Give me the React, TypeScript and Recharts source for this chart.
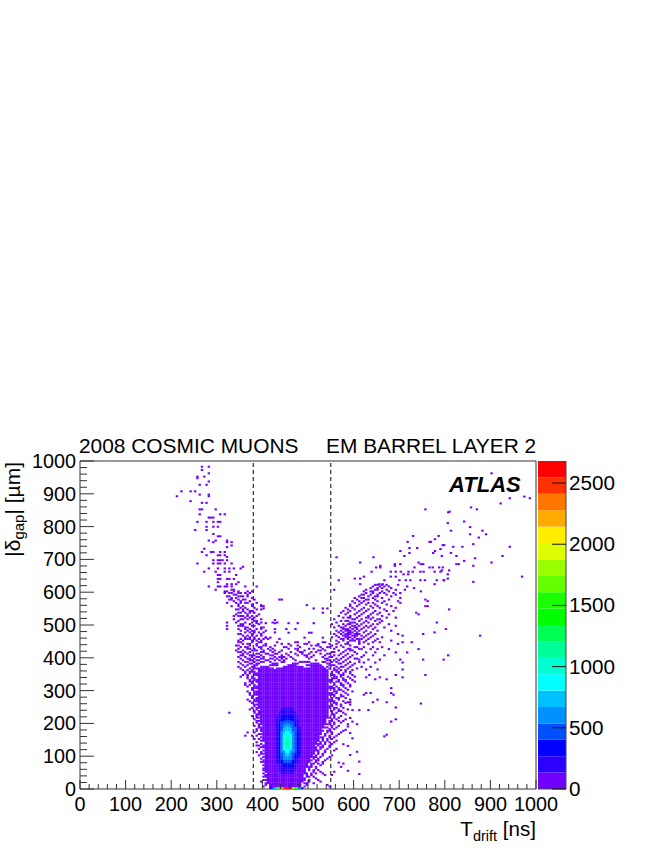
import React from 'react'
import { ScatterChart, Scatter, BarChart, Bar, XAxis, YAxis, ReferenceLine } from 'recharts'

const FONT = '"Liberation Sans", Arial, sans-serif'

// ROOT rainbow palette, one colour per z contour
const bandColors = [
  '#7000ff', '#3000ff', '#0000ff', '#0050ff', '#0090ff', '#00c0ff', '#00ffff', '#00ffd0', '#00ff99', '#00ff55',
  '#00ff00', '#1aff00', '#66ff00', '#99ff00', '#ddff00', '#ffee00', '#ffaa00', '#ff7700', '#ff3000', '#ff0000',
]
const BAND_STEP = 134
const zTicks = [0, 500, 1000, 1500, 2000, 2500]
const axisTicks = Array.from({ length: 51 }, (_, i) => i * 20)

// solid part of the histogram: [yLow, yHigh, xLow, xHigh] per contour
const level0Rows = [
  [385, 390, 490, 505], [380, 385, 470, 480], [380, 385, 510, 525], [375, 380, 420, 435], [375, 380, 455, 475],
  [375, 380, 495, 530], [370, 375, 395, 415], [370, 375, 445, 490], [370, 375, 505, 535], [365, 370, 385, 425],
  [365, 370, 430, 540], [355, 365, 390, 545], [345, 355, 385, 545], [335, 345, 390, 545], [325, 335, 385, 550],
  [315, 325, 390, 545], [305, 315, 385, 550], [295, 305, 390, 545], [285, 295, 385, 550], [275, 285, 390, 545],
  [265, 275, 385, 550], [255, 265, 390, 545], [245, 255, 390, 550], [235, 245, 395, 545], [225, 235, 390, 545],
  [215, 225, 395, 545], [205, 215, 395, 540], [195, 205, 395, 540], [185, 195, 400, 535], [175, 185, 395, 530],
  [165, 175, 400, 530], [155, 165, 400, 525], [145, 155, 400, 525], [135, 145, 405, 520], [125, 135, 400, 515],
  [115, 125, 405, 515], [105, 115, 405, 510], [95, 105, 405, 510], [85, 95, 405, 505], [75, 85, 405, 500],
  [65, 75, 405, 500], [55, 65, 405, 495], [45, 55, 410, 495], [35, 45, 405, 490], [25, 35, 410, 490],
  [15, 25, 410, 485], [5, 15, 415, 485], [0, 5, 420, 480],
]
const level1Rows = [
  [245, 250, 445, 465], [235, 245, 440, 470], [220, 235, 435, 475], [190, 220, 430, 480], [100, 190, 430, 485],
  [75, 100, 430, 480], [55, 75, 435, 475], [45, 55, 440, 470],
]
const level2Rows = [
  [220, 225, 445, 465], [205, 220, 440, 470], [180, 205, 435, 475], [100, 180, 435, 480], [80, 100, 435, 475], [65, 80, 445, 470],
]
const level3Rows = [[205, 210, 445, 465], [190, 205, 440, 470], [110, 190, 440, 475], [90, 110, 440, 470], [80, 90, 445, 465]]
const level4Rows = [[195, 200, 450, 460], [175, 195, 445, 465], [110, 175, 440, 470], [90, 110, 445, 465]]
const level5Rows = [[185, 190, 450, 460], [165, 185, 445, 465], [115, 165, 445, 465], [100, 115, 450, 460]]
const level6Rows = [[170, 175, 450, 460], [150, 170, 445, 465], [120, 150, 445, 465], [110, 120, 450, 460]]
const level7Rows = [[160, 165, 450, 460], [135, 160, 450, 460], [120, 135, 450, 460]]
const level8Rows = [[150, 155, 450, 455], [130, 150, 450, 460]]
const coreLevels = [level0Rows, level1Rows, level2Rows, level3Rows, level4Rows, level5Rows, level6Rows, level7Rows, level8Rows]

// the y = 0 row, where the counts pile up
const bottomBins = [415, 420, 425, 430, 435, 440, 445, 450, 455, 460, 465, 470, 475, 480, 485]
const bottomCounts = [300, 500, 800, 1100, 1500, 2200, 2500, 2650, 2650, 2600, 1800, 1400, 1200, 600, 200]

// sparse hits: [y, [x, x, ...]]
const leftArmRows: [number, number[]][] = [
  [980, [265, 280]], [970, [265]], [960, [280]], [950, [270, 255]], [945, [255]], [935, [280]], [925, [260, 275]],
  [905, [220, 240, 250]], [895, [260, 280]], [890, [210, 280]], [875, [240]], [870, [265, 275]], [850, [260, 265, 295]],
  [835, [260, 305, 315]], [825, [280, 285, 290]], [812, [255, 275, 290, 300, 305]], [797, [275, 290, 300]], [787, [250, 275]],
  [775, [290]], [768, [300, 305]], [755, [280, 295, 320]], [750, [290, 320, 330]], [740, [330]], [735, [320]], [730, [270]],
  [720, [265, 285, 290, 305, 315]], [710, [275, 300, 305, 315]], [705, [320]], [695, [290, 300, 305, 310, 320]],
  [685, [255, 290, 300, 305, 315, 330]], [675, [355]], [670, [280, 300, 315, 325, 335, 350]], [660, [270, 295, 315, 325]],
  [650, [300, 305, 340]], [638, [300, 305, 320, 325, 335]], [628, [300, 345]], [622, [320, 330, 340]],
  [615, [280, 300, 305, 315, 320, 330, 360, 385]], [605, [295, 330, 335]], [600, [315, 320, 335, 345, 365, 375]],
  [595, [315, 325, 330, 345, 350, 360, 370]], [590, [335, 340, 365]], [585, [320, 325, 345, 350, 355, 365]],
  [580, [330, 340, 375]], [575, [325, 330, 345, 355, 360, 380, 440]], [570, [335, 350, 370]],
  [565, [320, 340, 350, 360, 365, 385]], [560, [345, 375]], [555, [330, 345, 355, 375, 395, 400]], [550, [350, 360, 380]],
  [545, [340, 345, 355, 365, 385, 395]], [540, [355, 370, 375]], [535, [345, 350, 360, 370, 380]], [530, [340, 365, 390]],
  [525, [335, 345, 350, 355, 365, 375, 385]], [520, [360, 370, 380]], [515, [335, 350, 355, 365, 375, 395]], [510, [345, 380, 385]],
  [505, [320, 340, 360, 375, 385, 395, 420, 430]], [500, [350, 355, 370, 390]], [495, [320, 345, 350, 355, 375, 380]], [490, [360, 365, 395, 400]],
  [485, [320, 345, 360, 370, 385, 395, 425, 450]], [480, [350, 365, 375, 380, 405]], [475, [360, 370, 380, 390, 400, 425]], [470, [345, 350, 375, 395]],
  [465, [355, 365, 375, 385, 395]], [460, [360, 370, 380, 405]], [455, [350, 360, 365, 370, 380, 390, 400, 410, 435]], [450, [345, 355, 375, 385, 395]],
]

const haloRows: [number, number[]][] = [
  [575, [435]], [558, [395, 495]], [548, [400, 510, 530, 540]], [535, [530]], [513, [425]],
  [503, [385, 405, 425, 455, 475, 510]], [485, [470]], [474, [455, 500, 505]], [459, [405, 415, 490, 530]],
  [445, [345, 350, 375, 390, 395, 430, 470, 475, 500, 530, 535, 565, 585]],
  [440, [355, 365, 370, 385, 405, 440, 455, 490, 495, 520, 545, 560, 580, 585]],
  [435, [340, 345, 370, 385, 400, 405, 425, 460, 475, 505, 515, 520, 550, 570, 590]],
  [430, [350, 360, 365, 390, 395, 415, 445, 450, 480, 525, 540, 545, 560, 575, 600, 605]],
  [425, [345, 365, 370, 380, 395, 410, 420, 455, 470, 475, 500, 510, 530, 555, 585, 590, 610]],
  [420, [340, 355, 375, 380, 385, 400, 415, 425, 440, 475, 490, 520, 525, 535, 565, 580, 590, 595]],
  [415, [345, 350, 360, 370, 395, 400, 420, 435, 460, 480, 485, 505, 515, 550, 555, 575, 600]],
  [410, [355, 365, 385, 390, 405, 410, 425, 430, 450, 470, 485, 500, 525, 540, 545, 570, 585, 605]],
  [405, [350, 355, 370, 375, 380, 395, 415, 420, 440, 455, 475, 490, 495, 510, 535, 555, 565, 580, 595]],
  [400, [345, 360, 375, 385, 390, 400, 425, 435, 440, 445, 460, 495, 505, 530, 545, 550, 575, 590, 615]],
  [395, [350, 365, 370, 380, 395, 400, 415, 420, 430, 440, 450, 465, 500, 535, 540, 560, 570, 585, 600, 605]],
  [390, [355, 370, 375, 385, 390, 405, 410, 425, 435, 445, 470, 515, 540, 545, 555, 565, 580]],
  [385, [345, 360, 365, 380, 395, 400, 415, 440, 445, 480, 485, 530, 535, 550, 560, 575, 590, 610]],
  [380, [350, 370, 375, 385, 390, 420, 425, 430, 465, 505, 540, 545, 565, 570, 585, 600]],
  [375, [355, 365, 380, 385, 415, 545, 550, 555, 580, 595]],
  [370, [345, 360, 375, 380, 540, 560, 570, 575, 590]],
  [365, [350, 370, 380, 545, 555, 565, 585, 605]],
]

const sideRows: [number, number[]][] = [
  [360, [355, 365, 375, 555, 560, 570, 580, 595]], [355, [360, 370, 375, 380, 550, 560, 565, 580, 590]],
  [350, [360, 370, 380, 550, 565, 575, 590]], [345, [355, 365, 380, 385, 550, 555, 570, 575, 595]],
  [340, [350, 365, 375, 555, 560, 570, 585, 600]], [335, [365, 375, 380, 550, 555, 560, 575, 590]],
  [330, [370, 380, 550, 565, 575, 580, 595]], [325, [370, 375, 385, 550, 560, 565, 580, 600]], [320, [360, 375, 555, 570, 585]],
  [315, [360, 370, 380, 555, 570, 575, 590]], [310, [365, 380, 550, 560, 575, 590]], [305, [375, 380, 550, 555, 565, 580]],
  [300, [375, 555, 565, 570, 585]], [295, [365, 380, 385, 555, 560, 575, 595]], [290, [370, 380, 550, 560, 580]],
  [285, [370, 380, 550, 555, 570, 585]], [280, [375, 555, 570, 575]], [275, [375, 385, 550, 560, 565, 580]],
  [270, [365, 380, 550, 565, 590]], [265, [370, 380, 385, 550, 555, 575]], [260, [375, 555, 560, 580]],
  [255, [380, 385, 550, 560, 570, 590]], [250, [380, 550, 570]], [245, [375, 385, 555, 560, 575]], [240, [370, 385, 555, 565, 585]],
  [235, [380, 390, 550, 565, 570]], [230, [325, 380, 550, 560, 575]], [225, [385, 390, 550, 555, 580]], [220, [375, 385, 555, 570]],
  [215, [385, 390, 545, 555, 565]], [210, [380, 550, 560, 580]], [205, [385, 390, 545, 550, 565, 575]], [200, [385, 545, 555, 570]],
  [195, [390, 540, 545, 555, 585]], [190, [380, 390, 550, 565]], [185, [390, 395, 535, 540, 550, 560]], [180, [385, 545, 555]],
  [175, [385, 395, 530, 540, 545, 575]], [170, [365, 380, 540, 550, 570]], [165, [390, 395, 525, 535, 550, 565]], [160, [360, 375, 385, 535, 545, 560]],
  [155, [395, 525, 530, 545, 555]], [150, [380, 390, 530, 540, 550]], [145, [395, 400, 520, 530, 540, 560]], [140, [385, 525, 535, 555, 545]],
  [135, [395, 520, 525, 535, 550]], [130, [385, 390, 520, 530, 545]], [125, [395, 400, 515, 525, 530, 545]], [120, [390, 525, 515, 540, 560]],
  [115, [400, 515, 520, 535, 555]], [110, [385, 395, 520, 510, 535]], [105, [395, 400, 510, 520, 530]], [100, [390, 515, 505, 530, 550]],
  [95, [400, 510, 515, 525, 545]], [90, [395, 510, 520, 540]], [85, [400, 505, 515, 520, 535]], [80, [395, 400, 500, 515, 530]],
  [75, [405, 505, 510, 520, 530]], [70, [400, 505, 495, 525]], [65, [405, 500, 505, 515]], [60, [400, 405, 500, 515]],
  [55, [400, 500, 510, 520]], [50, [405, 510, 490, 525]], [45, [400, 495, 505, 515, 530]], [40, [405, 410, 495, 505, 535]],
  [35, [400, 495, 500, 510]], [30, [410, 490, 515]], [25, [400, 405, 490, 500, 520]], [20, [395, 410, 485, 500, 525]],
  [15, [405, 490, 495, 510]], [10, [405, 480, 495, 540]], [5, [400, 415, 490, 545]],
]

const rightArmRows: [number, number[]][] = [
  [960, [900]], [889, [972]], [884, [940, 984]], [868, [920]], [856, [855]], [850, [755, 868]], [843, [808]], [841, [805]],
  [813, [840]], [808, [804]], [796, [853]], [785, [811, 880]], [774, [853, 888]], [769, [728, 784]], [764, [872]], [759, [776]],
  [751, [716, 764, 767]], [744, [860]], [741, [793, 796]], [736, [816, 836, 940]], [732, [720, 737]], [729, [788]], [723, [700, 776]],
  [717, [772, 811, 720]], [708, [709, 823, 924, 791]], [704, [560, 641]], [701, [864]], [693, [840]], [688, [612, 740, 900]],
  [683, [688, 700, 745, 750, 823, 828]], [678, [688, 656, 860]], [673, [647, 656, 764, 771, 785, 793, 731]], [664, [791, 807]],
  [660, [679, 690, 701, 718, 727, 637, 744, 751, 775, 788]], [652, [707, 717, 804]], [645, [690, 679, 620, 967]],
  [639, [612, 600, 804]], [634, [698, 712, 722, 744, 754, 780, 795, 665, 565, 796]], [629, [860]], [622, [775, 612, 654, 661]],
  [620, [645, 650, 660, 670, 695]], [615, [640, 655, 665, 675, 715]], [610, [635, 650, 660, 680, 730]],
  [605, [625, 645, 650, 670, 690, 710, 555]], [600, [620, 635, 640, 660, 675, 745]], [595, [625, 640, 655, 665, 685, 700]],
  [590, [615, 620, 635, 650, 670, 690]], [585, [610, 630, 645, 650, 680]], [580, [600, 615, 620, 640, 660, 700]],
  [575, [605, 625, 630, 645, 675, 755]], [570, [595, 610, 620, 650, 665, 695, 760]], [565, [600, 615, 630, 640, 660, 700]],
  [560, [590, 610, 625, 645, 670]], [555, [590, 605, 635, 650, 680, 755, 760]], [550, [580, 595, 620, 640, 655, 690]],
  [545, [585, 600, 615, 630, 665, 807]], [540, [575, 590, 610, 625, 645, 670, 685]], [535, [570, 585, 605, 620, 640, 655, 735]],
  [530, [580, 600, 615, 635, 650, 675, 740]], [525, [565, 590, 610, 630, 660]],
  [520, [575, 585, 590, 605, 625, 630, 640, 670, 690]], [515, [555, 595, 600, 615, 635, 650, 655]], [510, [570, 580, 585, 610, 625, 645, 660]],
  [505, [560, 590, 595, 600, 620, 630, 655, 780]], [500, [550, 575, 585, 590, 605, 615, 640, 650, 675]], [495, [565, 580, 595, 600, 610, 625, 635, 690]],
  [490, [555, 570, 575, 590, 600, 605, 620, 630, 645, 665]], [485, [575, 580, 585, 595, 605, 615, 640, 800]],
  [480, [560, 570, 580, 585, 590, 600, 610, 625, 650, 680]], [475, [565, 575, 585, 590, 595, 605, 620, 635, 775]],
  [470, [555, 570, 580, 585, 590, 600, 605, 610, 630, 645, 695, 750]], [465, [560, 575, 580, 585, 595, 600, 605, 615, 625, 640, 705, 875]],
  [460, [550, 565, 580, 585, 590, 600, 620, 635, 660]], [455, [570, 575, 585, 595, 605, 610, 615, 630, 650]],
  [450, [560, 575, 590, 595, 600, 610, 625, 645, 680]],
  [445, [610, 620, 640, 655, 705, 725]], [440, [610, 630, 695]], [430, [620, 640, 660]], [424, [615, 635, 650, 675, 740]],
  [414, [625, 645, 690, 715]], [405, [620, 640, 665, 805]], [392, [610, 630, 655, 700, 750, 795]], [383, [620, 645, 705]],
  [370, [615, 635]], [362, [625, 650, 705]], [345, [632, 690, 755]], [338, [625, 655, 705]], [332, [645, 670]],
  [305, [680]], [290, [625, 635, 680]], [285, [620, 685]], [270, [650]], [262, [585, 590, 640, 670]], [258, [745]],
  [246, [690]], [238, [595, 610, 630]], [214, [590]], [210, [690]], [203, [595, 680]], [195, [605]], [188, [585]],
  [178, [580]], [168, [590]], [163, [670]], [158, [665]], [152, [595]], [134, [575]], [129, [585]], [111, [605]],
  [101, [590]], [81, [610]], [78, [565]], [75, [575]], [65, [570]], [53, [585]], [50, [555]], [43, [610]], [40, [550]],
]

type Hit = { x: number; y: number; count: number }

const hitsFrom = (rows: [number, number[]][]): Hit[] =>
  rows.flatMap(([y, xs]) => xs.map((x) => ({ x: x + 2.5, y: y + 2.5, count: 50 })))

const buildCore = (): Hit[] => {
  const cells = new Map<string, Hit>()
  coreLevels.forEach((rows, level) => {
    rows.forEach(([yLow, yHigh, xLow, xHigh]) => {
      for (let y = yLow; y < yHigh; y += 5) {
        for (let x = xLow; x < xHigh; x += 5) {
          cells.set(`${x}:${y}`, { x: x + 2.5, y: y + 2.5, count: level * BAND_STEP + 60 })
        }
      }
    })
  })
  bottomBins.forEach((x, i) => {
    cells.set(`${x}:0`, { x: x + 2.5, y: 2.5, count: bottomCounts[i] })
  })
  return [...cells.values()]
}

const sparseHits = hitsFrom([...leftArmRows, ...haloRows, ...sideRows, ...rightArmRows])
const coreCells = buildCore()

const colorBarData = [Object.fromEntries([['name', 'z'], ...bandColors.map((_, i) => [`b${i}`, BAND_STEP])])]

const BinShape = (props: any) => {
  const level = Math.min(bandColors.length - 1, Math.floor(props.payload.count / BAND_STEP))
  return <rect x={props.cx - 1.2} y={props.cy - 1} width={2.4} height={2} fill={bandColors[level]} />
}

const tickLine = { stroke: '#333', strokeWidth: 1 }

const BottomTick = ({ x, y, payload }: any) => {
  const major = payload.value % 100 === 0
  return (
    <g>
      <line x1={x} x2={x} y1={y} y2={y - (major ? 9 : 5)} {...tickLine} />
      {major && (
        <text x={x} y={y + 22} textAnchor="middle" fontSize={19.8} fontFamily={FONT} fill="#000">
          {payload.value}
        </text>
      )}
    </g>
  )
}

const TopTick = ({ x, y, payload }: any) => (
  <line x1={x} x2={x} y1={y} y2={y + (payload.value % 100 === 0 ? 9 : 5)} {...tickLine} />
)

const LeftTick = ({ x, y, payload }: any) => {
  const major = payload.value % 100 === 0
  return (
    <g>
      <line x1={x} x2={x + (major ? 14 : 7)} y1={y} y2={y} {...tickLine} />
      {major && (
        <text x={x - 4} y={y + 7} textAnchor="end" fontSize={19.8} fontFamily={FONT} fill="#000">
          {payload.value}
        </text>
      )}
    </g>
  )
}

const RightTick = ({ x, y, payload }: any) => (
  <line x1={x} x2={x - (payload.value % 100 === 0 ? 14 : 7)} y1={y} y2={y} {...tickLine} />
)

const ZTick = ({ x, y, payload }: any) => (
  <g>
    <line x1={x - 14} x2={x} y1={y} y2={y} stroke="#111" strokeWidth={1} />
    <text x={x + 3} y={y + 7} fontSize={20.7} fontFamily={FONT} fill="#000">
      {payload.value}
    </text>
  </g>
)

export default function App() {
  return (
    <div style={{ position: 'absolute', left: 0, top: 0, width: 664, height: 860, background: '#fff' }}>
      <div style={{ position: 'absolute', left: 0, top: 0 }}>
        <ScatterChart width={664} height={860} margin={{ top: 460, right: 127, bottom: 0, left: 0 }}>
          <XAxis
            type="number"
            dataKey="x"
            domain={[0, 1000]}
            ticks={axisTicks}
            interval={0}
            height={71}
            stroke="#333"
            tickSize={0}
            tickMargin={0}
            tickLine={false}
            tick={<BottomTick />}
            allowDataOverflow
          />
          <XAxis
            xAxisId="top"
            orientation="top"
            type="number"
            domain={[0, 1000]}
            ticks={axisTicks}
            interval={0}
            height={1}
            stroke="#333"
            tickSize={0}
            tickMargin={0}
            tickLine={false}
            tick={<TopTick />}
          />
          <YAxis
            type="number"
            dataKey="y"
            domain={[0, 1000]}
            ticks={axisTicks}
            interval={0}
            width={80}
            stroke="#333"
            tickSize={0}
            tickMargin={0}
            tickLine={false}
            tick={<LeftTick />}
            allowDataOverflow
          />
          <YAxis
            yAxisId="right"
            orientation="right"
            type="number"
            domain={[0, 1000]}
            ticks={axisTicks}
            interval={0}
            width={1}
            stroke="#333"
            tickSize={0}
            tickMargin={0}
            tickLine={false}
            tick={<RightTick />}
          />
          <Scatter data={coreCells} shape={<BinShape />} isAnimationActive={false} />
          <Scatter data={sparseHits} shape={<BinShape />} isAnimationActive={false} />
          <ReferenceLine x={380} stroke="#000" strokeDasharray="4 3" />
          <ReferenceLine x={550} stroke="#000" strokeDasharray="4 3" />
          <text x={79} y={453} fontSize={20.9} fontFamily={FONT} fill="#000">2008 COSMIC MUONS</text>
          <text x={326} y={453} fontSize={20.9} fontFamily={FONT} fill="#000">EM BARREL LAYER 2</text>
          <text x={449} y={492} fontSize={22} fontWeight="bold" fontStyle="italic" fontFamily={FONT} fill="#000">ATLAS</text>
          <text x={20} y={462} transform="rotate(-90 20 462)" textAnchor="end" fontSize={21} fontFamily={FONT} fill="#000">
            |δ<tspan fontSize={15} dy={4}>gap</tspan><tspan dy={-4}>| [µm]</tspan>
          </text>
          <text x={536} y={836} textAnchor="end" fontSize={20.6} fontFamily={FONT} fill="#000">
            T<tspan fontSize={14.5} dy={5}>drift</tspan><tspan dy={-5}> [ns]</tspan>
          </text>
        </ScatterChart>
      </div>
      <div style={{ position: 'absolute', left: 538, top: 0 }}>
        <BarChart
          width={126}
          height={860}
          data={colorBarData}
          barCategoryGap={0}
          margin={{ top: 461, right: 0, bottom: 71, left: 0 }}
        >
          <XAxis dataKey="name" hide />
          <YAxis
            orientation="right"
            type="number"
            domain={[0, 2680]}
            ticks={zTicks}
            interval={0}
            width={98}
            stroke="#444"
            tickSize={0}
            tickMargin={0}
            tickLine={false}
            tick={<ZTick />}
          />
          {bandColors.map((color, i) => (
            <Bar key={color} dataKey={`b${i}`} stackId="z" fill={color} isAnimationActive={false} />
          ))}
          <ReferenceLine y={0} stroke="#444" />
        </BarChart>
      </div>
    </div>
  )
}
